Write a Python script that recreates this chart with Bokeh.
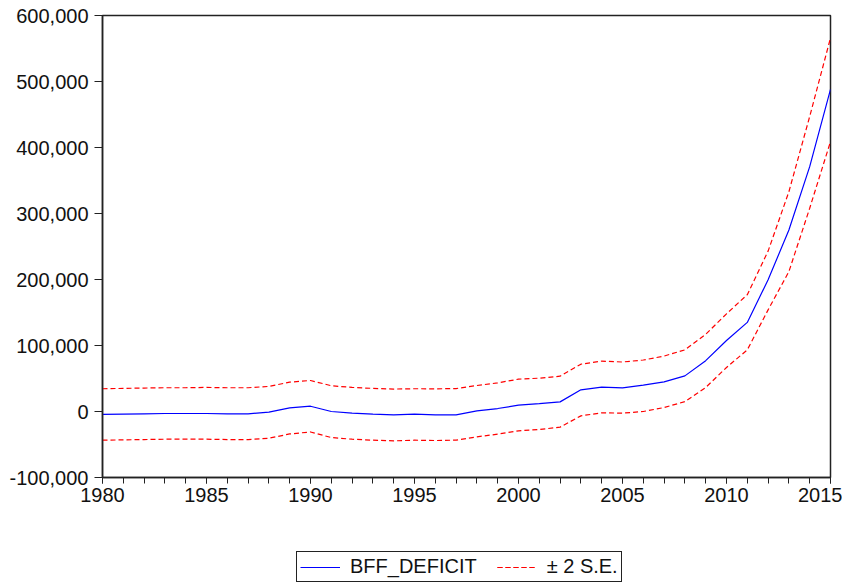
from bokeh.plotting import figure
from bokeh.layouts import column
from bokeh.models import Range1d, FixedTicker, NumeralTickFormatter, Legend, LegendItem, ColumnDataSource
from bokeh.embed import file_html
from bokeh.resources import INLINE

years = list(range(1980, 2016))
bff_deficit = [-4500, -4000, -3500, -3000, -3000, -3000, -3500, -3500, -1000, 5500,
               8000, 0, -2500, -4000, -5000, -4000, -5000, -5000, 1000, 4500,
               9600, 12000, 14600, 32800, 36900, 35900, 40000, 45000, 54000, 77000,
               107600, 135000, 199500, 275000, 371000, 488000]
upper_2se = [34500, 35000, 35500, 36000, 36000, 36500, 36000, 36000, 38000, 44500,
             47000, 39000, 36500, 35000, 34000, 34500, 34300, 34800, 39400, 43400,
             49000, 50500, 53500, 71700, 76300, 75000, 78000, 84000, 93400, 117000,
             148000, 177000, 243000, 333000, 447000, 566000]
lower_2se = [-43500, -43000, -42500, -42000, -42000, -42000, -42500, -42500, -40500, -34000,
             -31000, -39500, -42000, -43500, -44500, -43500, -44000, -43400, -38400, -34300,
             -29300, -27300, -23700, -6600, -2000, -2500, 0, 6000, 15000, 36400,
             66700, 93400, 154000, 212000, 308000, 409000]
x_major_ticks = [1980, 1985, 1990, 1995, 2000, 2005, 2010, 2015]
y_ticks = [-100000, 0, 100000, 200000, 300000, 400000, 500000, 600000]

src = ColumnDataSource(dict(year=years, v=bff_deficit, up=upper_2se, lo=lower_2se))

FONT = "Liberation Sans"
FS = "20px"
BLUE = "#0000FF"
RED = "#FF0000"
DASH = "5 3"

p = figure(width=842, height=530, output_backend="svg", toolbar_location=None,
           x_range=Range1d(1980, 2015), y_range=Range1d(-100000, 600000),
           min_border_left=102, min_border_right=12, min_border_top=15, min_border_bottom=53)
p.background_fill_color = "white"
p.border_fill_color = "white"
p.outline_line_color = "#222222"
p.outline_line_width = 1.5
p.grid.visible = False

p.line("year", "v", source=src, line_color=BLUE, line_width=1.2)
p.line("year", "up", source=src, line_color=RED, line_width=1.2, line_dash=DASH)
p.line("year", "lo", source=src, line_color=RED, line_width=1.2, line_dash=DASH)

xa = p.xaxis[0]
xa.ticker = FixedTicker(ticks=x_major_ticks, minor_ticks=years)
xa.major_tick_out = 6
xa.major_tick_in = 0
xa.minor_tick_out = 6
xa.minor_tick_in = 0
xa.major_label_standoff = 4
ya = p.yaxis[0]
ya.ticker = FixedTicker(ticks=y_ticks, minor_ticks=[])
ya.formatter = NumeralTickFormatter(format="0,0")
ya.major_tick_out = 8
ya.major_tick_in = 0
ya.major_label_standoff = 6
for ax in (xa, ya):
    ax.axis_line_color = "#222222"
    ax.axis_line_width = 1.5
    ax.major_tick_line_color = "#222222"
    ax.minor_tick_line_color = "#222222"
    ax.major_label_text_font = FONT
    ax.major_label_text_font_size = FS
    ax.major_label_text_color = "#111111"

# legend strip below the chart (same series, drawn out of view so only the legend shows)
leg = figure(width=842, height=52, output_backend="svg", toolbar_location=None,
             x_range=Range1d(1980, 2015), y_range=Range1d(1e9, 1e9 + 1),
             x_axis_location=None, y_axis_location=None,
             min_border_left=0, min_border_right=0, min_border_top=0, min_border_bottom=0)
leg.outline_line_color = None
leg.grid.visible = False
leg.background_fill_color = "white"
leg.border_fill_color = "white"
lb = leg.line("year", "v", source=src, line_color=BLUE, line_width=1.2)
lu = leg.line("year", "up", source=src, line_color=RED, line_width=1.2, line_dash=DASH)
ll = leg.line("year", "lo", source=src, line_color=RED, line_width=1.2, line_dash=DASH)

legend = Legend(items=[LegendItem(label="BFF_DEFICIT", renderers=[lb]),
                       LegendItem(label="± 2 S.E.", renderers=[lu, ll])],
                orientation="horizontal", location=(194, 0),
                label_text_font=FONT, label_text_font_size=FS, label_text_color="#111111",
                glyph_width=40, label_standoff=10, spacing=20, padding=3, margin=0,
                border_line_color="#222222", border_line_width=1, border_line_alpha=1.0,
                background_fill_alpha=1.0)
leg.add_layout(legend, "center")

layout = column(p, leg, spacing=0)
open("out.html", "w").write(file_html(layout, INLINE))
